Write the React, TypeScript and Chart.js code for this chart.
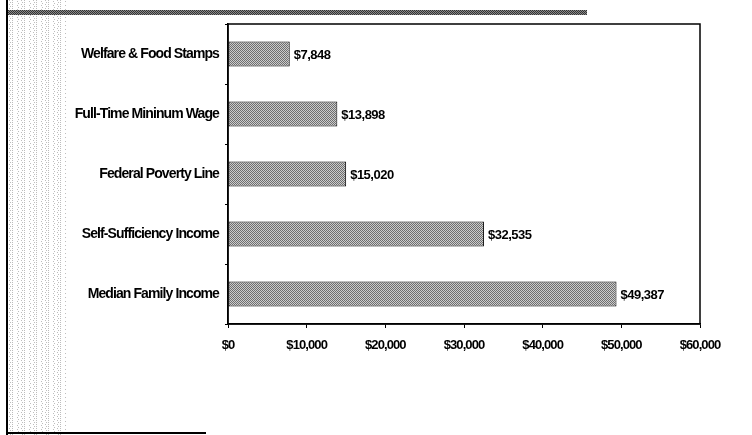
import React, { useEffect, useRef } from "react";
import { Chart, registerables } from "chart.js";

Chart.register(...registerables);

const categories = [
  "Welfare & Food Stamps",
  "Full-Time Mininum Wage",
  "Federal Poverty Line",
  "Self-Sufficiency Income",
  "Median Family Income",
];
const incomeValues = [7848, 13898, 15020, 32535, 49387];
const axisMin = 0;
const axisMax = 60000;
const axisStep = 10000;

const FONT = "'Liberation Sans', Arial, sans-serif";

function makePattern(a: string, b: string, size = 2): CanvasPattern | string {
  const c = document.createElement("canvas");
  c.width = size;
  c.height = size;
  const ctx = c.getContext("2d");
  if (!ctx) return a;
  ctx.fillStyle = b;
  ctx.fillRect(0, 0, size, size);
  ctx.fillStyle = a;
  ctx.fillRect(0, 0, 1, 1);
  ctx.fillRect(1, 1, 1, 1);
  const p = ctx.createPattern(c, "repeat");
  return p || a;
}

function makeStripPattern(): CanvasPattern | string {
  const c = document.createElement("canvas");
  c.width = 12;
  c.height = 4;
  const ctx = c.getContext("2d");
  if (!ctx) return "#eee";
  ctx.fillStyle = "#ffffff";
  ctx.fillRect(0, 0, 12, 4);
  ctx.fillStyle = "#bdbdbd";
  ctx.fillRect(0, 0, 1, 1);
  ctx.fillRect(0, 2, 1, 1);
  ctx.fillRect(5, 1, 1, 1);
  ctx.fillRect(6, 3, 1, 1);
  ctx.fillRect(9, 0, 1, 1);
  ctx.fillRect(10, 2, 1, 1);
  const p = ctx.createPattern(c, "repeat");
  return p || "#eee";
}

const fmt = (v: number) => "$" + v.toLocaleString("en-US");

export default function App() {
  const ref = useRef<HTMLCanvasElement | null>(null);

  useEffect(() => {
    if (!ref.current) return;
    const barFill = makePattern("#6e6e6e", "#cccccc");
    const topFill = makePattern("#333333", "#8a8a8a");
    const stripFill = makeStripPattern();

    const decor = {
      id: "decor",
      beforeDraw(chart: any) {
        const ctx = chart.ctx;
        ctx.save();
        ctx.fillStyle = "#ffffff";
        ctx.fillRect(0, 0, chart.width, chart.height);
        ctx.fillStyle = stripFill;
        ctx.fillRect(8, 0, 58, chart.height);
        ctx.fillStyle = topFill;
        ctx.fillRect(8, 10, 579, 5);
        ctx.fillStyle = "#000";
        ctx.fillRect(6, 0, 2, chart.height);
        ctx.fillRect(6, 432, 200, 2);
        ctx.restore();
        (ctx as any).letterSpacing = "-0.9px";
      },
      afterDraw(chart: any) {
        const ctx = chart.ctx;
        const a = chart.chartArea;
        ctx.save();
        ctx.strokeStyle = "#000";
        ctx.lineWidth = 1.5;
        ctx.strokeRect(a.left, a.top, a.right - a.left, a.bottom - a.top);
        ctx.restore();
      },
    };

    const valueLabels = {
      id: "valueLabels",
      afterDatasetsDraw(chart: any) {
        const ctx = chart.ctx;
        const meta = chart.getDatasetMeta(0);
        ctx.save();
        (ctx as any).letterSpacing = "-0.5px";
        ctx.fillStyle = "#000";
        ctx.font = `bold 13px ${FONT}`;
        ctx.textBaseline = "middle";
        ctx.textAlign = "left";
        meta.data.forEach((bar: any, i: number) => {
          ctx.fillText(fmt(incomeValues[i]), bar.x + 4, bar.y + 1);
        });
        ctx.restore();
      },
    };

    const chart = new Chart(ref.current, {
      type: "bar",
      data: {
        labels: categories,
        datasets: [
          {
            data: incomeValues,
            backgroundColor: barFill as any,
            borderColor: "#000",
            borderWidth: 1,
            borderSkipped: false,
            barPercentage: 0.42,
            categoryPercentage: 1,
          },
        ],
      },
      options: {
        indexAxis: "y",
        animation: false,
        responsive: false,
        maintainAspectRatio: false,
        layout: { padding: { left: 0, top: 24, right: 52, bottom: 0 } },
        plugins: {
          legend: { display: false },
          tooltip: { enabled: false },
        },
        scales: {
          x: {
            min: axisMin,
            max: axisMax,
            ticks: {
              stepSize: axisStep,
              color: "#000",
              padding: 10,
              font: { family: FONT, size: 13, weight: "bold" },
              callback: (v: any) => fmt(Number(v)),
              maxRotation: 0,
            },
            grid: {
              drawOnChartArea: false,
              drawTicks: true,
              tickLength: 4,
              color: "#000",
            },
            border: { display: true, color: "#000", width: 1.5 },
            afterFit: (s: any) => {
              s.height = 111;
            },
          },
          y: {
            ticks: {
              color: "#000",
              padding: 6,
              font: { family: FONT, size: 14, weight: "bold" },
            },
            grid: {
              drawOnChartArea: false,
              drawTicks: true,
              tickLength: 3,
              color: "#000",
              offset: true,
            },
            border: { display: true, color: "#000", width: 1.5 },
            afterFit: (s: any) => {
              s.width = 228;
            },
          },
        },
      },
      plugins: [decor, valueLabels],
    });
    return () => chart.destroy();
  }, []);

  return (
    <div style={{ position: "absolute", left: 0, top: 0, width: 752, height: 435 }}>
      <canvas ref={ref} width={752} height={435} style={{ display: "block" }} />
    </div>
  );
}
